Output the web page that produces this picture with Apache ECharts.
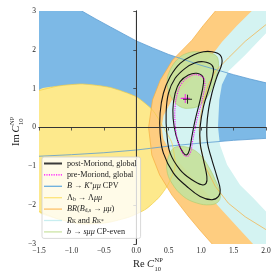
<!DOCTYPE html>
<html>
<head>
<meta charset="utf-8">
<script src="https://cdn.jsdelivr.net/npm/echarts@6/dist/echarts.min.js"></script>
<style>html,body{margin:0;padding:0;background:#fff}#c{width:280px;height:280px}</style>
</head>
<body>
<div id="c"></div>
<script>
// ---- axes ----
const xTicks = [-1.5, -1.0, -0.5, 0.0, 0.5, 1.0, 1.5, 2.0];
const xTickLabels = ['\u22121.5', '\u22121.0', '\u22120.5', '0.0', '0.5', '1.0', '1.5', '2.0'];
const yTicks = [-3, -2, -1, 0, 1, 2, 3];
const yTickLabels = ['\u22123', '\u22122', '\u22121', '0', '1', '2', '3'];

// ---- legend labels ----
const legendNames = ['post-Moriond, global', 'pre-Moriond, global', 'B→K*μμ CPV', 'Λb→Λμμ', 'BR(Bds→μμ)', 'RK and RK*', 'b→sμμ CP-even'];
const legendRich = [
  'post-Moriond, global',
  'pre-Moriond, global',
  '{i|B} → {i|K}{sup|*}{i|μμ} CPV',
  'Λ{sub|b} → Λ{i|μμ}',
  '{i|BR}({i|B}{sub|d,s} → {i|μμ})',
  '{i|R}{sub|K} and {i|R}{sub|K*}',
  '{i|b} → {i|sμμ} CP-even'
];

// ---- B -> K* mu mu CPV band (Re, Im) ----
const blueUpper = [[-0.84,3.0],[-0.62,2.79],[-0.40,2.59],[-0.2,2.41],[0.0,2.23],[0.25,2.05],[0.5,1.88],[0.75,1.74],[1.0,1.6],[1.25,1.48],[1.5,1.36],[1.75,1.25],[2.0,1.15]];
const blueLower = [[-1.5,-0.74],[-1.0,-0.70],[-0.5,-0.65],[0.0,-0.58],[0.5,-0.48],[1.0,-0.40],[1.5,-0.33],[2.0,-0.28]];

// ---- Lambda_b region edge ----
const yellowEdge = [[-1.5,0.95],[-1.2,1.07],[-0.83,1.12],[-0.4,1.03],[0.0,0.79],[0.25,0.45],[0.42,0.0],[0.55,-0.4],[0.6,-1.0],[0.48,-1.5],[0.35,-1.8],[0.15,-2.1],[-0.1,-2.3],[-0.45,-2.45],[-0.85,-2.48],[-1.2,-2.36],[-1.5,-2.16]];

// ---- BR(B_s -> mu mu) band ----
const orangeOuter = [[1.22,3.0],[1.03,2.62],[0.86,2.25],[0.56,1.74],[0.37,1.22],[0.25,0.71],[0.19,0.0],[0.24,-0.71],[0.36,-1.22],[0.55,-1.74],[0.80,-2.28],[0.98,-2.64],[1.17,-3.0]];
const orangeInner = [[2.0,2.65],[1.68,2.22],[1.42,1.79],[1.22,1.45],[1.11,1.10],[1.04,0.71],[0.99,0.28],[0.97,-0.06],[0.99,-0.49],[1.06,-1.0],[1.22,-1.52],[1.42,-1.95],[1.68,-2.3],[2.0,-2.63]];

// ---- R_K and R_K* band ----
const cyanLeft = [[1.78,3.0],[1.55,2.62],[1.32,2.2],[1.11,1.74],[0.85,1.25],[0.55,0.71],[0.42,0.3],[0.39,0.0],[0.42,-0.3],[0.55,-0.71],[0.85,-1.25],[1.11,-1.74],[1.34,-2.16],[1.58,-2.6],[1.80,-3.0]];
const cyanRight = [[2.0,2.43],[1.68,1.87],[1.42,1.45],[1.32,1.10],[1.28,0.71],[1.26,0.02],[1.29,-0.45],[1.40,-0.96],[1.60,-1.48],[1.80,-1.81],[2.0,-2.16]];

// ---- b -> s mu mu CP-even regions ----
const greenUpper = [[0.934,1.951],[1.217,1.866],[1.268,1.609],[1.217,1.224],[1.113,0.838],[0.985,0.581],[0.831,0.496],[0.676,0.537],[0.548,0.753],[0.476,1.139],[0.522,1.481],[0.650,1.781],[0.780,1.910]];
const greenLower = [[0.676,-0.491],[0.831,-0.532],[0.985,-0.704],[1.113,-1.005],[1.217,-1.347],[1.294,-1.689],[1.268,-1.905],[1.139,-1.990],[0.934,-1.946],[0.727,-1.776],[0.548,-1.432],[0.471,-1.090],[0.496,-0.748],[0.573,-0.532]];

// ---- global fit contours ----
const contour3 = [[1.166,1.951],[1.294,1.866],[1.320,1.653],[1.243,1.308],[1.166,0.882],[1.113,0.452],[1.088,0.023],[1.098,-0.404],[1.166,-0.833],[1.243,-1.262],[1.294,-1.604],[1.268,-1.776],[1.166,-1.861],[0.985,-1.776],[0.780,-1.519],[0.573,-1.175],[0.418,-0.661],[0.367,-0.147],[0.367,0.368],[0.418,0.882],[0.522,1.308],[0.676,1.653],[0.882,1.866],[1.036,1.951]];
const contour2 = [[1.036,1.694],[1.166,1.609],[1.190,1.437],[1.113,0.967],[1.036,0.537],[0.985,0.023],[0.985,-0.404],[1.036,-0.833],[1.088,-1.262],[1.078,-1.432],[1.011,-1.476],[0.857,-1.347],[0.676,-1.090],[0.522,-0.661],[0.471,-0.147],[0.460,0.368],[0.496,0.882],[0.599,1.267],[0.753,1.524],[0.908,1.668]];
const contour1 = [[0.934,1.396],[1.027,1.308],[1.036,1.139],[0.985,0.709],[0.908,0.195],[0.857,-0.234],[0.820,-0.576],[0.780,-0.704],[0.727,-0.661],[0.650,-0.404],[0.584,0.023],[0.564,0.452],[0.599,0.882],[0.676,1.180],[0.804,1.352]];
const preMoriond = [[0.959,1.352],[1.051,1.224],[1.027,0.794],[0.934,0.195],[0.872,-0.319],[0.831,-0.661],[0.769,-0.747],[0.702,-0.619],[0.635,-0.319],[0.599,0.110],[0.599,0.537],[0.635,0.882],[0.702,1.139],[0.831,1.326]];
const bestFitPost = [[0.79, 0.73]];
const bestFitPre = [[0.755, 0.75]];

const xMin = xTicks[0], xMax = xTicks[xTicks.length-1];
const yMin = yTicks[0], yMax = yTicks[yTicks.length-1];
const refLinesH = [[xMin,0],[xMax,0]];
const refLinesV = [[0,yMin],[0,yMax]];

const SERIF = 'Liberation Serif';

function shape(name, pts, style, z, closed, smooth, color) {
  return {
    type: 'custom', name: name, coordinateSystem: 'cartesian2d',
    z: z, silent: true, clip: true, animation: false,
    itemStyle: { color: color || style.fill || style.stroke },
    data: [[0, 0]], encode: { x: 0, y: 1 },
    renderItem: function (params, api) {
      return {
        type: closed ? 'polygon' : 'polyline',
        shape: { points: pts.map(function (p) { return api.coord(p); }), smooth: smooth || 0 },
        style: Object.assign({}, style)
      };
    }
  };
}

const bluePoly = [[xMin, yMax]].concat(blueUpper, blueLower.slice().reverse());
const orangePoly = orangeOuter.concat([[xMax, yMin]], orangeInner.slice().reverse(), [[xMax, yMax]]);
const cyanPoly = cyanLeft.concat([[xMax, yMin]], cyanRight.slice().reverse(), [[xMax, yMax]]);

const C = {
  blue: '#7db9e6', blueLine: '#5a9cd2',
  yellow: '#fde98c', yellowLine: '#f2cf48',
  orange: '#fecd80', orangeLine: '#f7ad3e',
  cyan: '#d4f3f2',
  green: '#c6e29c', greenLine: '#a6cc6a',
  black: '#141414', magenta: '#ff00ff'
};

const series = [
  shape(legendNames[2], bluePoly, { fill: C.blue }, 1, true, 0, '#6aaede'),
  shape(legendNames[3], yellowEdge, { fill: C.yellow }, 2, true, 0.2, '#fde47a'),
  shape(legendNames[4], orangePoly, { fill: C.orange }, 3, true, 0, '#fdc26a'),
  shape(legendNames[5], cyanPoly, { fill: C.cyan }, 4, true, 0, '#c8eef0'),
  shape(legendNames[6], greenUpper, { fill: C.green, opacity: 0.92, stroke: C.greenLine, lineWidth: 0.6 }, 5, true, 0.4, '#cde4a6'),
  shape(legendNames[6], greenLower, { fill: C.green, opacity: 0.92, stroke: C.greenLine, lineWidth: 0.6 }, 5, true, 0.4, '#cde4a6'),
  shape('blueEdgeU', blueUpper, { fill: null, stroke: C.blueLine, lineWidth: 0.8 }, 6, false, 0),
  shape('blueEdgeL', blueLower, { fill: null, stroke: C.blueLine, lineWidth: 0.8 }, 6, false, 0),
  shape('yellowEdge', yellowEdge, { fill: null, stroke: C.yellowLine, lineWidth: 0.7 }, 6, false, 0.2),
  shape('orangeEdgeO', orangeOuter, { fill: null, stroke: C.orangeLine, lineWidth: 0.7 }, 6, false, 0),
  shape('orangeEdgeI', orangeInner, { fill: null, stroke: C.orangeLine, lineWidth: 0.7 }, 6, false, 0),
  shape('refH', refLinesH, { fill: null, stroke: '#a0a0a0', lineWidth: 1 }, 6.5, false, 0),
  shape('refV', refLinesV, { fill: null, stroke: '#a0a0a0', lineWidth: 1 }, 6.5, false, 0),
  shape(legendNames[0], contour3, { fill: null, stroke: C.black, lineWidth: 1.1 }, 7, true, 0.4),
  shape(legendNames[0], contour2, { fill: null, stroke: C.black, lineWidth: 1.1 }, 7, true, 0.4),
  shape(legendNames[0], contour1, { fill: null, stroke: C.black, lineWidth: 1.1 }, 7, true, 0.4),
  shape(legendNames[1], preMoriond, { fill: null, stroke: C.magenta, lineWidth: 1.1, lineDash: [1, 1.2] }, 8, true, 0.4),
  {
    type: 'scatter', name: 'bfPre', data: bestFitPre, z: 9, silent: true, animation: false,
    symbol: 'path://M0,3.55H8V4.45H0ZM3.55,0H4.45V8H3.55Z', symbolSize: 9,
    itemStyle: { color: C.magenta }
  },
  {
    type: 'scatter', name: 'bfPost', data: bestFitPost, z: 9, silent: true, animation: false,
    symbol: 'path://M0,3.55H8V4.45H0ZM3.55,0H4.45V8H3.55Z', symbolSize: 9,
    itemStyle: { color: '#000' }
  }
];

function dots() {
  let s = 'path://';
  for (let i = 0; i < 8; i++) { const x = i * 2.4; s += 'M' + x + ',0h1.2v1.2h-1.2z'; }
  return s;
}
const lineIcon = function (h) { return 'path://M0,0H18V' + h + 'H0Z'; };

const legendData = [
  { name: legendNames[0], icon: lineIcon(2), itemStyle: { color: '#3a3a3a' } },
  { name: legendNames[1], icon: dots(), itemStyle: { color: C.magenta } },
  { name: legendNames[2], icon: lineIcon(1.3), itemStyle: { color: '#6aaede' } },
  { name: legendNames[3], icon: lineIcon(1.3), itemStyle: { color: '#fde47a' } },
  { name: legendNames[4], icon: lineIcon(1.3), itemStyle: { color: '#fdc26a' } },
  { name: legendNames[5], icon: lineIcon(1.3), itemStyle: { color: '#c8eef0' } },
  { name: legendNames[6], icon: lineIcon(1.3), itemStyle: { color: '#cde4a6' } }
];

function axisFmt(ticks, labels) {
  return function (v) {
    const i = ticks.findIndex(function (t) { return Math.abs(t - v) < 1e-9; });
    return i >= 0 ? labels[i] : '';
  };
}

const axisCommon = {
  axisLine: { show: true, lineStyle: { color: '#333', width: 0.9 } },
  axisTick: { show: true, inside: false, length: 3, lineStyle: { color: '#333', width: 0.8 } },
  splitLine: { show: false },
  z: 15
};

const option = {
  animation: false,
  grid: { left: 39, right: 14, top: 11, bottom: 36 },
  xAxis: [
    Object.assign({}, axisCommon, {
      type: 'value', min: xMin, max: xMax, interval: 0.5, position: 'bottom',
      axisLabel: { formatter: axisFmt(xTicks, xTickLabels), fontFamily: SERIF, fontSize: 7.5, color: '#222', margin: 3 }
    }),
    Object.assign({}, axisCommon, {
      type: 'value', min: xMin, max: xMax, interval: 0.5, position: 'top',
      axisTick: { show: false }, axisLabel: { show: false }
    })
  ],
  yAxis: [
    Object.assign({}, axisCommon, {
      type: 'value', min: yMin, max: yMax, interval: 1, position: 'left',
      axisLabel: { formatter: axisFmt(yTicks, yTickLabels), fontFamily: SERIF, fontSize: 7.5, color: '#222', margin: 3 }
    }),
    Object.assign({}, axisCommon, {
      type: 'value', min: yMin, max: yMax, interval: 1, position: 'right',
      axisTick: { show: false }, axisLabel: { show: false }
    })
  ],
  legend: {
    orient: 'vertical', left: 42, top: 157, z: 20, zlevel: 0,
    padding: [2, 4, 2, 2], itemGap: 2.4, itemWidth: 18, itemHeight: 9,
    backgroundColor: 'rgba(255,255,255,0.8)', borderColor: '#cfcfcf', borderWidth: 0.8, borderRadius: 2,
    selectedMode: false,
    data: legendData,
    formatter: function (name) { return legendRich[legendNames.indexOf(name)]; },
    textStyle: {
      fontFamily: SERIF, fontSize: 8.2, color: '#222', lineHeight: 9,
      rich: {
        i: { fontFamily: SERIF, fontStyle: 'italic', fontSize: 8.2, color: '#222', lineHeight: 9 },
        sub: { fontFamily: SERIF, fontSize: 5.6, color: '#222', lineHeight: 5, verticalAlign: 'bottom' },
        sup: { fontFamily: SERIF, fontSize: 5.6, color: '#222', lineHeight: 5, verticalAlign: 'top' }
      }
    }
  },
  graphic: [
    { type: 'text', x: 133, y: 259, silent: true, style: { text: 'Re', font: '10.5px "Liberation Serif"', fill: '#222', align: 'left', verticalAlign: 'top' } },
    { type: 'text', x: 147, y: 259, silent: true, style: { text: 'C', font: 'italic 10.5px "Liberation Serif"', fill: '#222', align: 'left', verticalAlign: 'top' } },
    { type: 'text', x: 154.5, y: 256.5, silent: true, style: { text: 'NP', font: '6.5px "Liberation Serif"', fill: '#222', align: 'left', verticalAlign: 'top' } },
    { type: 'text', x: 154.5, y: 266, silent: true, style: { text: '10', font: '6.5px "Liberation Serif"', fill: '#222', align: 'left', verticalAlign: 'top' } },
    {
      type: 'group', x: 11, y: 146, rotation: Math.PI / 2, silent: true,
      children: [
        { type: 'text', x: 0, y: 0, style: { text: 'Im', font: '10.5px "Liberation Serif"', fill: '#222', align: 'left', verticalAlign: 'top' } },
        { type: 'text', x: 13.5, y: 0, style: { text: 'C', font: 'italic 10.5px "Liberation Serif"', fill: '#222', align: 'left', verticalAlign: 'top' } },
        { type: 'text', x: 21, y: -2.5, style: { text: 'NP', font: '6.5px "Liberation Serif"', fill: '#222', align: 'left', verticalAlign: 'top' } },
        { type: 'text', x: 21, y: 7, style: { text: '10', font: '6.5px "Liberation Serif"', fill: '#222', align: 'left', verticalAlign: 'top' } }
      ]
    }
  ],
  series: series
};

const chart = echarts.init(document.getElementById('c'), null, { renderer: 'canvas', width: 280, height: 280 });
chart.setOption(option);
</script>
</body>
</html>
